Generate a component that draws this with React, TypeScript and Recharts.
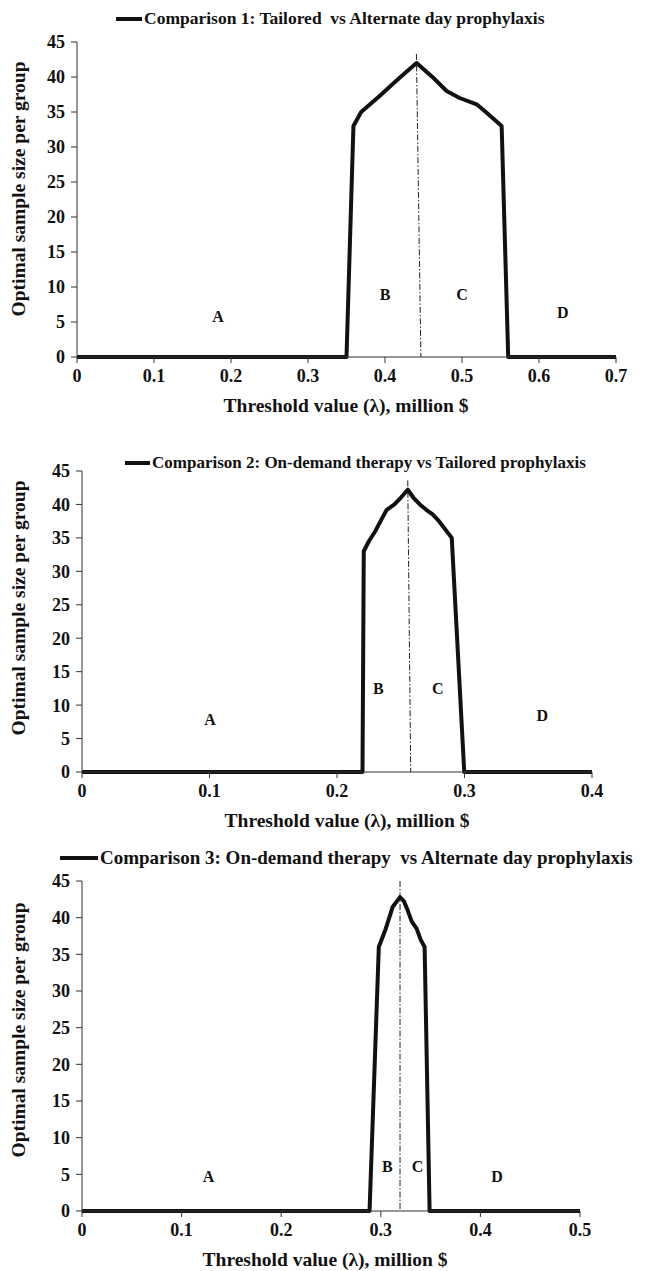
import React from 'react';
import { LineChart, Line, XAxis, YAxis, ReferenceLine, ReferenceDot, Legend, Label } from 'recharts';

const FONT = "'Liberation Serif', 'Times New Roman', serif";
const INK = '#111';

// ---------- data ----------
const yTicks = [0, 5, 10, 15, 20, 25, 30, 35, 40, 45];

const x1 = [0, 0.35, 0.359, 0.369, 0.393, 0.419, 0.441, 0.4645, 0.48, 0.497, 0.519, 0.532, 0.5515, 0.56, 0.7];
const y1 = [0, 0, 33, 35, 37.3, 39.9, 42, 39.7, 38, 37, 36.1, 34.9, 33, 0, 0];
const xTicks1 = [0, 0.1, 0.2, 0.3, 0.4, 0.5, 0.6, 0.7];
const regions1 = [
  { label: 'A', x: 0.183, y: 5.8 },
  { label: 'B', x: 0.4, y: 9.0 },
  { label: 'C', x: 0.5, y: 9.0 },
  { label: 'D', x: 0.631, y: 6.4 },
];
const optimum1 = [{ x: 0.4408, y: 43.3 }, { x: 0.4466, y: 0 }];

const x2 = [0, 0.22, 0.221, 0.225, 0.23, 0.235, 0.239, 0.245, 0.25, 0.2555, 0.26, 0.265, 0.27, 0.275, 0.28, 0.29, 0.2998, 0.4];
const y2 = [0, 0, 33, 34.5, 36, 37.8, 39.2, 40, 41, 42.2, 41, 40, 39.2, 38.5, 37.5, 35, 0, 0];
const xTicks2 = [0, 0.1, 0.2, 0.3, 0.4];
const regions2 = [
  { label: 'A', x: 0.1005, y: 7.9 },
  { label: 'B', x: 0.2325, y: 12.5 },
  { label: 'C', x: 0.279, y: 12.5 },
  { label: 'D', x: 0.361, y: 8.4 },
];
const optimum2 = [{ x: 0.2555, y: 43.6 }, { x: 0.2578, y: 0 }];

const x3 = [0, 0.2887, 0.298, 0.305, 0.312, 0.3193, 0.323, 0.327, 0.331, 0.336, 0.34, 0.344, 0.349, 0.5];
const y3 = [0, 0, 36, 38.5, 41.5, 42.8, 42.3, 41, 39.5, 38.5, 37, 36, 0, 0];
const xTicks3 = [0, 0.1, 0.2, 0.3, 0.4, 0.5];
const regions3 = [
  { label: 'A', x: 0.127, y: 4.7 },
  { label: 'B', x: 0.3066, y: 6.1 },
  { label: 'C', x: 0.337, y: 6.1 },
  { label: 'D', x: 0.4166, y: 4.7 },
];
const optimum3 = [{ x: 0.3193, y: 45 }, { x: 0.3193, y: 0 }];

const series1 = 'Comparison 1: Tailored  vs Alternate day prophylaxis';
const series2 = 'Comparison 2: On-demand therapy vs Tailored prophylaxis';
const series3 = 'Comparison 3: On-demand therapy  vs Alternate day prophylaxis';
const xTitle = 'Threshold value (\u03bb), million $';
const yTitle = 'Optimal sample size per group';

const zip = (xs: number[], ys: number[]) => xs.map((x, i) => ({ x, y: ys[i] }));

type PanelProps = {
  data: { x: number; y: number }[];
  name: string;
  xTicks: number[];
  xMax: number;
  regions: { label: string; x: number; y: number }[];
  optimum: { x: number; y: number }[];
  height: number;
  marginTop: number;
  marginRight: number;
  yAxisWidth: number;
  yLabelCy: number;
  xLabelCx: number;
  legendLeft: number;
  legendTop: number;
  legendFont: number;
  legendLine: number;
};

const Panel = (p: PanelProps) => {
  const legendContent = (props: any) => {
    const item = (props.payload && props.payload[0]) || { value: p.name };
    return (
      <div
        style={{
          display: 'flex',
          alignItems: 'center',
          height: p.legendFont + 4,
          whiteSpace: 'nowrap',
          fontFamily: FONT,
          fontWeight: 700,
          fontSize: p.legendFont,
          color: INK,
          lineHeight: 1,
        }}
      >
        <span style={{ display: 'inline-block', width: p.legendLine, height: 4, background: INK, marginRight: 2 }} />
        <span style={{ whiteSpace: 'pre' }}>{item.value}</span>
      </div>
    );
  };

  const yLabel = () => {
    const cx = 10;
    const cy = p.yLabelCy;
    return (
      <text
        x={cx}
        y={cy}
        transform={`rotate(-90 ${cx} ${cy})`}
        textAnchor="middle"
        dominantBaseline="central"
        fill={INK}
        fontFamily={FONT}
        fontWeight={700}
        fontSize={19.5}
      >
        {yTitle}
      </text>
    );
  };

  const xLabel = (props: any) => {
    const vb = props.viewBox || { y: 0 };
    return (
      <text
        x={p.xLabelCx}
        y={vb.y + 55}
        textAnchor="middle"
        fill={INK}
        fontFamily={FONT}
        fontWeight={700}
        fontSize={19.5}
      >
        {xTitle}
      </text>
    );
  };

  const tickStyle = { fill: INK, fontSize: 18, fontWeight: 700, fontFamily: FONT };

  return (
    <LineChart
      width={638}
      height={p.height}
      data={p.data}
      margin={{ top: p.marginTop, right: p.marginRight, bottom: 0, left: 0 }}
    >
      <XAxis
        type="number"
        dataKey="x"
        domain={[0, p.xMax]}
        ticks={p.xTicks}
        interval={0}
        height={60}
        tickMargin={6}
        tick={tickStyle}
        axisLine={{ stroke: '#333', strokeWidth: 1 }}
        tickLine={{ stroke: '#333', strokeWidth: 1 }}
      >
        <Label content={xLabel} />
      </XAxis>
      <YAxis
        type="number"
        domain={[0, 45]}
        ticks={yTicks}
        interval={0}
        width={p.yAxisWidth}
        tickMargin={6}
        tick={tickStyle}
        axisLine={{ stroke: '#333', strokeWidth: 1 }}
        tickLine={{ stroke: '#333', strokeWidth: 1 }}
      >
        <Label content={yLabel} />
      </YAxis>
      <Legend
        layout="vertical"
        verticalAlign="middle"
        align="center"
        wrapperStyle={{ top: p.legendTop, left: p.legendLeft, width: 'auto', height: 'auto' }}
        content={legendContent}
      />
      <ReferenceLine
        segment={p.optimum}
        stroke="#222"
        strokeWidth={1}
        strokeDasharray="6 2 1.5 2"
      />
      {p.regions.map((r) => (
        <ReferenceDot
          key={r.label}
          x={r.x}
          y={r.y}
          r={0}
          fill="none"
          stroke="none"
          label={{ value: r.label, position: 'center', fill: INK, fontSize: 16, fontWeight: 700, fontFamily: FONT }}
        />
      ))}
      <Line
        type="linear"
        dataKey="y"
        name={p.name}
        stroke={INK}
        strokeWidth={4}
        dot={false}
        activeDot={false}
        isAnimationActive={false}
        strokeLinejoin="round"
      />
    </LineChart>
  );
};

export default function App() {
  return (
    <div style={{ width: 638 }}>
      <Panel
        data={zip(x1, y1)}
        name={series1}
        xTicks={xTicks1}
        xMax={0.7}
        regions={regions1}
        optimum={optimum1}
        height={409}
        marginTop={34}
        marginRight={30}
        yAxisWidth={69}
        yLabelCy={181}
        xLabelCx={338}
        legendLeft={108}
        legendTop={0}
        legendFont={17.5}
        legendLine={26}
      />
      <Panel
        data={zip(x2, y2)}
        name={series2}
        xTicks={xTicks2}
        xMax={0.4}
        regions={regions2}
        optimum={optimum2}
        height={415}
        marginTop={54}
        marginRight={54}
        yAxisWidth={74}
        yLabelCy={191}
        xLabelCx={339}
        legendLeft={117}
        legendTop={35}
        legendFont={17}
        legendLine={25}
      />
      <Panel
        data={zip(x3, y3)}
        name={series3}
        xTicks={xTicks3}
        xMax={0.5}
        regions={regions3}
        optimum={optimum3}
        height={439}
        marginTop={49}
        marginRight={66}
        yAxisWidth={74}
        yLabelCy={198}
        xLabelCx={317}
        legendLeft={52}
        legendTop={14}
        legendFont={19}
        legendLine={38}
      />
    </div>
  );
}
